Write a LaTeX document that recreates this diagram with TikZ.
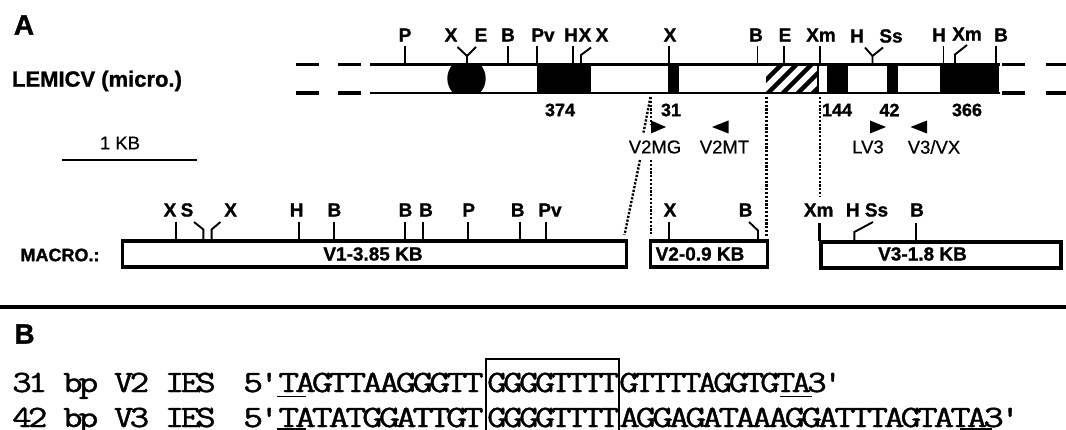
\documentclass[tikz,border=0pt]{standalone}
\usepackage{fontspec}
\setmainfont[BoldFeatures={FakeBold=1.1}]{Liberation Sans}
\newfontfamily\seqfont[FakeStretch=1.25,LetterSpace=-12.8,FakeBold=1.2]{Latin Modern Mono}
\usetikzlibrary{positioning,calc}

\begin{document}
\begin{tikzpicture}[x=1pt, y=-1pt,
  site/.style={font=\fontsize{19}{19}\selectfont\bfseries, inner sep=0pt},
  num/.style={font=\fontsize{18}{18}\selectfont\bfseries, inner sep=0pt},
  primer/.style={font=\fontsize{18.5}{18.5}\selectfont\addfontfeature{FakeBold=0.6}, inner sep=0pt},
  boxname/.style={font=\fontsize{19}{19}\selectfont\bfseries, inner sep=0pt},
  heading/.style={font=\fontsize{28}{28}\selectfont\bfseries, inner sep=0pt},
  rowname/.style={font=\fontsize{20}{20}\selectfont\bfseries, inner sep=0pt},
  tick/.style={line width=1.9pt},
  macrobox/.style={draw, line width=3.2pt, inner sep=0pt, minimum height=26pt},
  linkdot/.style={line width=2.4pt, dash pattern=on 2.2pt off 1.6pt},
  seqtext/.style={font=\fontsize{31}{31}\seqfont, anchor=base west, inner sep=0pt, transform shape},
  tip/.style={fill=black, draw=none}]
  \useasboundingbox (0,0) rectangle (1066,430);

  % panel A, micronuclear map
  \node[heading] (panela) at (24,25) {A};
  \node[rowname, font=\fontsize{22}{22}\selectfont\bfseries] (micro) at (97,81) {LEMICV (micro.)};
  \draw[line width=2.4pt] (370,64.5) -- (1000,64.5);
  \draw[line width=2.4pt] (370,93) -- (1000,93);
  \foreach \y in {64.5,93} {
    \draw[line width=3.4pt] (296,\y) -- (319,\y);
    \draw[line width=3.4pt] (338,\y) -- (361,\y);
    \draw[line width=3.4pt] (1002,\y) -- (1025,\y);
    \draw[line width=3.4pt] (1046,\y) -- (1066,\y);
  }
  % exons in black
  \begin{scope}
    \clip (440,64) rectangle (490,93);
    \fill (466.5,78.5) ellipse (19.2 and 20);
  \end{scope}
  \foreach \a/\b in {537/591,667.7/679,826.5/847.6,887.4/897.6,939.5/999} {
    \fill (\a,64) rectangle (\b,93);
  }
  % hatched stretch
  \begin{scope}
    \clip (766,65) rectangle (818,92);
    \foreach \x in {752,767,...,812} {
      \draw[line width=4.5pt] (\x,94) -- (\x+31,63);
    }
  \end{scope}
  \draw[line width=1.5pt] (818,64) -- (818,93);

  % sites on the micronuclear map
  \foreach \x/\lx/\t in {405/405/P,508/508/B,537/543/Pv,573/571/H,669/670/X,757.5/756/B,784/785/E,943.5/939/H,996/1001/B} {
    \draw[tick] (\x,64) -- (\x,46.5);
    \node[site] at (\lx,35) {\t};
  }
  \draw[tick] (820,64) -- (820,46.5);
  \node[site] (xmone) at (821,35) {Xm};
  \node[site] (xone) at (451,35) {X};
  \node[site] (eone) at (481,35) {E};
  \draw[tick] (467,64) -- (467,56) -- (457.5,47);
  \draw[tick] (467,56) -- (476,47);
  \node[site] (xtwo) at (585,35) {X};
  \node[site] (xthree) at (602,35) {X};
  \draw[tick] (581,64) -- (581,55) -- (591,47.5);
  \node[site] (hone) at (857,36) {H};
  \node[site] (ssone) at (891,36) {Ss};
  \draw[tick] (872.5,64) -- (872.5,56) -- (865,47.5);
  \draw[tick] (872.5,56) -- (883,47.5);
  \node[site] (xmtwo) at (967,34) {Xm};
  \draw[tick] (955,64) -- (955,54.5) -- (967,45);

  % IES sizes
  \node[num] (n374) at (560,110) {374};
  \node[num] (n31) at (671,110) {31};
  \node[num] (n144) at (837,110) {144};
  \node[num] (n42) at (889.5,110) {42};
  \node[num] (n366) at (967,110) {366};

  % primers
  \fill[tip] (651,120.5) -- (666,127) -- (651,133.5) -- cycle;
  \fill[tip] (728.5,120.5) -- (712,127) -- (728.5,133.5) -- cycle;
  \fill[tip] (870,120.5) -- (886,127) -- (870,133.5) -- cycle;
  \fill[tip] (927,120.5) -- (910.5,127) -- (927,133.5) -- cycle;
  \node[primer] (v2mg) at (655,147) {V2MG};
  \node[primer] (v2mt) at (724.5,147) {V2MT};
  \node[primer] (lv3) at (868,147) {LV3};
  \node[primer] (v3vx) at (934,147) {V3/VX};

  % scale bar
  \node[primer] (onekb) at (120,143) {1 KB};
  \draw[line width=2pt] (62,160.5) -- (196.5,160.5);

  % macronuclear map
  \node[rowname, font=\fontsize{18}{18}\selectfont\bfseries] (macro) at (60,255) {MACRO.:};
  \node[macrobox, minimum width=504pt] (v1box) at (374.5,254) {};
  \node[macrobox, minimum width=117pt] (v2box) at (709,254) {};
  \node[macrobox, minimum width=240pt] (v3box) at (941,255) {};
  \node[boxname] (v1name) at (373,254) {V1-3.85 KB};
  \node[boxname] (v2name) at (700,254) {V2-0.9 KB};
  \node[boxname] (v3name) at (922.5,254) {V3-1.8 KB};

  \foreach \x/\lx/\t in {176/170/X,299.3/296.6/H,334.4/334.4/B,404.8/405.5/B,422.8/426/B,467.7/468.7/P,519.7/517.7/B,546/550/Pv,669/670/X} {
    \draw[tick] (\x,240) -- (\x,221.7);
    \node[site] at (\lx,210) {\t};
  }
  \node[site] (stwo) at (187,210) {S};
  \node[site] (xfour) at (230.6,210) {X};
  \draw[tick] (203.4,240) -- (203.4,229.5) -- (194,222);
  \draw[tick] (211.6,240) -- (211.6,229.5) -- (220.4,222);
  \node[site] (btwo) at (745.6,210) {B};
  \draw[tick] (758,240) -- (758,230.5) -- (749,222);
  \node[site] (xmthree) at (818.7,210) {Xm};
  \draw[line width=2.4pt] (819.4,241) -- (819.4,223);
  \node[site] (htwo) at (852.7,210) {H};
  \node[site] (sstwo) at (876.5,210) {Ss};
  \draw[tick] (854.4,241) -- (854.4,232) -- (873,222);
  \node[site] (bthree) at (917,210) {B};
  \draw[tick] (916,241) -- (916,223);

  % dotted links between the maps
  \coordinate (la) at (650.5,97);
  \coordinate (lb) at (643.5,132.6);
  \coordinate (lc) at (640,160);
  \coordinate (ld) at (624.5,235);
  \draw[linkdot] (la) -- (lb);
  \draw[linkdot] (lc) -- (ld);
  \coordinate (me) at (651,97);
  \coordinate (mf) at (651,124);
  \coordinate (mg) at (651,160);
  \coordinate (mh) at (651,236);
  \draw[linkdot] (me) -- (mf);
  \draw[linkdot] (mg) -- (mh);
  \coordinate (ni) at (766.6,97);
  \coordinate (nj) at (766.6,236);
  \draw[linkdot] (ni) -- (nj);
  \coordinate (ok) at (820,97);
  \coordinate (ol) at (820,197);
  \draw[linkdot] (ok) -- (ol);

  % rule between the panels
  \draw[line width=4pt] (0,307.5) -- (1066,307.5);

  % panel B, sequences
  \node[heading] (panelb) at (24.5,334) {B};
  \node[seqtext, xscale=.98] (namev2) at (12,392) {31 bp V2 IES};
  \node[seqtext, xscale=.98] (namev3) at (12,427) {42 bp V3 IES};
  \node[seqtext] (fivev2) at (243,392) {5'};
  \node[seqtext] (fivev3) at (243,427) {5'};
  \node[seqtext, xscale=1.05] (lefta) at (278,392) {TAGTTAAGGGTT};
  \node[seqtext, xscale=1.05] (leftb) at (278,427) {TATATGGATTGT};
  \node[seqtext] (coreb) at (487,392) {GGGGTTTT};
  \node[seqtext] (corec) at (487,427) {GGGGTTTT};
  \node[seqtext, xscale=.98] (righta) at (619,392) {GTTTTAGGTGTA3'};
  \node[seqtext, xscale=1.035] (rightb) at (619,427) {AGGAGATAAAGGATTTAGTATA3'};
  \draw[line width=2.8pt] (486,432) -- (486,359) -- (619,359) -- (619,432);
  \draw[line width=1.8pt] (277,396.5) -- (306,396.5);
  \draw[line width=1.8pt] (780,396.5) -- (811.5,396.5);
  \draw[line width=1.8pt] (277,429.3) -- (306,429.3);
  \draw[line width=1.8pt] (960,429.3) -- (992,429.3);
\end{tikzpicture}
\end{document}
